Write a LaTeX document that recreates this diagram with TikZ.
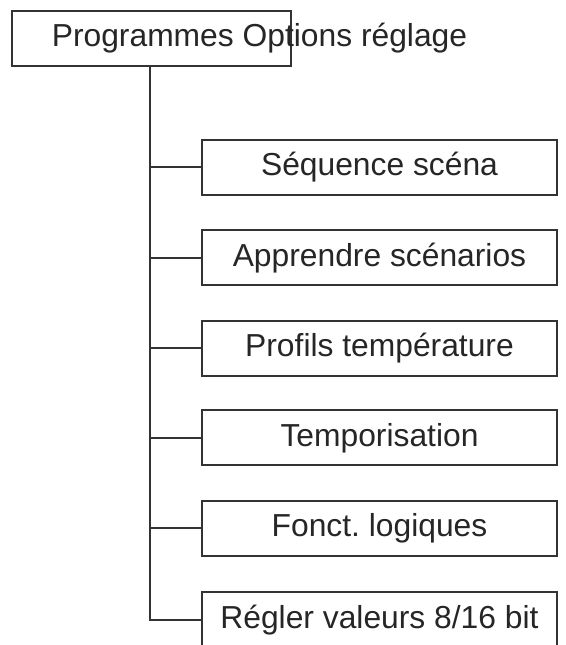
\documentclass[tikz,border=0pt]{standalone}
\usepackage{fontspec}
\setmainfont{Liberation Sans}
\frenchspacing
\begin{document}
\begin{tikzpicture}[x=1pt,y=1pt,
  ln/.style={line width=2pt, draw=black!80},
  topbox/.style={ln, rectangle, minimum width=279pt, minimum height=55pt, inner sep=0pt},
  childbox/.style={ln, rectangle, minimum width=355pt, minimum height=55pt, inner sep=0pt,
     text height=23pt, text depth=6pt, font=\fontsize{31.8}{36}\selectfont, text=black!85},
  toplabel/.style={inner sep=0pt, anchor=base, font=\fontsize{31.8}{36}\selectfont, text=black!85}]
\useasboundingbox (0,0) rectangle (565,-645);
\fill[white] (0,0) rectangle (565,-645);
\node[topbox] (top) at (151.5,-38.5) {};
\node[toplabel] (toptext) at (259.5,-46) {Programmes Options réglage};
\node[childbox] (b1) at (379.5,-167) {Séquence scéna};
\node[childbox] (b2) at (379.5,-257.5) {Apprendre scénarios};
\node[childbox] (b3) at (379.5,-348) {Profils température};
\node[childbox] (b4) at (379.5,-437.5) {Temporisation};
\node[childbox] (b5) at (379.5,-528) {Fonct. logiques};
\node[childbox] (b6) at (379.5,-619.5) {Régler valeurs 8/16 bit};
\coordinate (trunk) at (150,-66);
\draw[ln] (trunk) |- (b6.west);
\foreach \b in {b1,b2,b3,b4,b5} {
  \draw[ln] (trunk |- \b.west) -- (\b.west);
}
\end{tikzpicture}
\end{document}
